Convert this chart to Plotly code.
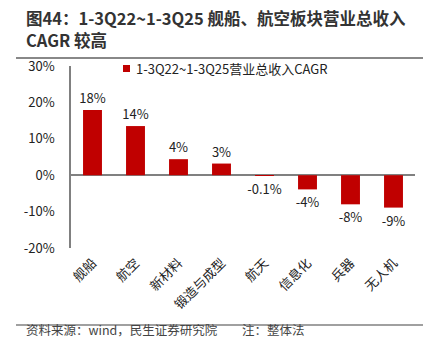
import plotly.graph_objects as go

categories = ["舰船", "航空", "新材料", "锻造与成型", "航天", "信息化", "兵器", "无人机"]
values = [17.9, 13.5, 4.4, 3.2, -0.1, -3.9, -8.0, -8.9]
labels = ["18%", "14%", "4%", "3%", "-0.1%", "-4%", "-8%", "-9%"]
series_name = "1-3Q22~1-3Q25营业总收入CAGR"
tick_vals = [-20, -10, 0, 10, 20, 30]
tick_text = ["-20%", "-10%", "0%", "10%", "20%", "30%"]

FONT = "Noto Sans CJK SC, Microsoft YaHei, sans-serif"
W, H = 438, 341
L, R, T, B = 71, 23, 66, 93
PW, PH = W - L - R, H - T - B


def px(x):
    return (x - L) / PW


def py(y):
    return (H - B - y) / PH


fig = go.Figure()
fig.add_trace(go.Bar(
    x=categories, y=values, name=series_name,
    marker=dict(color="#C00000", line=dict(width=0)),
    width=0.44,
    text=labels, textposition="outside", cliponaxis=False,
    constraintext="none",
    textfont=dict(size=13, color="#222222", family=FONT),
    showlegend=False,
))

fig.update_layout(
    width=W, height=H,
    margin=dict(l=L, r=R, t=T, b=B),
    paper_bgcolor="white", plot_bgcolor="white",
    font=dict(family=FONT, color="#222222", size=13),
    xaxis=dict(showline=False, ticks="", tickangle=-45,
               tickfont=dict(size=13), showgrid=False, zeroline=False,
               ticklabelstandoff=4),
    yaxis=dict(range=[-20, 30], tickvals=tick_vals, ticktext=tick_text,
               showgrid=False, zeroline=True, zerolinecolor="#808080",
               zerolinewidth=1.5, showline=True, linecolor="#808080",
               linewidth=1.5, ticks="", tickfont=dict(size=13),
               ticklabelstandoff=12),
    shapes=[
        dict(type="line", xref="paper", yref="paper",
             x0=px(16), x1=px(423), y0=py(58), y1=py(58),
             line=dict(color="#606060", width=1.5)),
        dict(type="line", xref="paper", yref="paper",
             x0=px(16), x1=px(423), y0=py(325), y1=py(325),
             line=dict(color="#808080", width=1.5)),
        dict(type="rect", xref="paper", yref="paper",
             x0=px(123), x1=px(130), y0=py(65), y1=py(72),
             fillcolor="#C00000", line=dict(width=0)),
    ],
    annotations=[
        dict(text="<b>图44：1-3Q22~1-3Q25 舰船、航空板块营业总收入</b>",
             xref="paper", yref="paper", align="left",
             x=px(24), y=py(17.5), xanchor="left", yanchor="middle", showarrow=False,
             font=dict(size=16.5, color="#333333", family=FONT)),
        dict(text="<b>CAGR 较高</b>",
             xref="paper", yref="paper", align="left",
             x=px(24), y=py(39.5), xanchor="left", yanchor="middle", showarrow=False,
             font=dict(size=16.5, color="#333333", family=FONT)),
        dict(text=series_name,
             xref="paper", yref="paper", align="left",
             x=px(134), y=py(68.5), xanchor="left", yanchor="middle", showarrow=False,
             font=dict(size=13, color="#222222", family=FONT)),
        dict(text="资料来源：wind，民生证券研究院",
             xref="paper", yref="paper", align="left",
             x=px(24), y=py(340.5), xanchor="left", yanchor="bottom", showarrow=False,
             font=dict(size=12.5, color="#444444", family=FONT)),
        dict(text="注：整体法",
             xref="paper", yref="paper", align="left",
             x=px(240), y=py(340.5), xanchor="left", yanchor="bottom", showarrow=False,
             font=dict(size=12.5, color="#444444", family=FONT)),
    ],
)

fig.write_html("out.html")
